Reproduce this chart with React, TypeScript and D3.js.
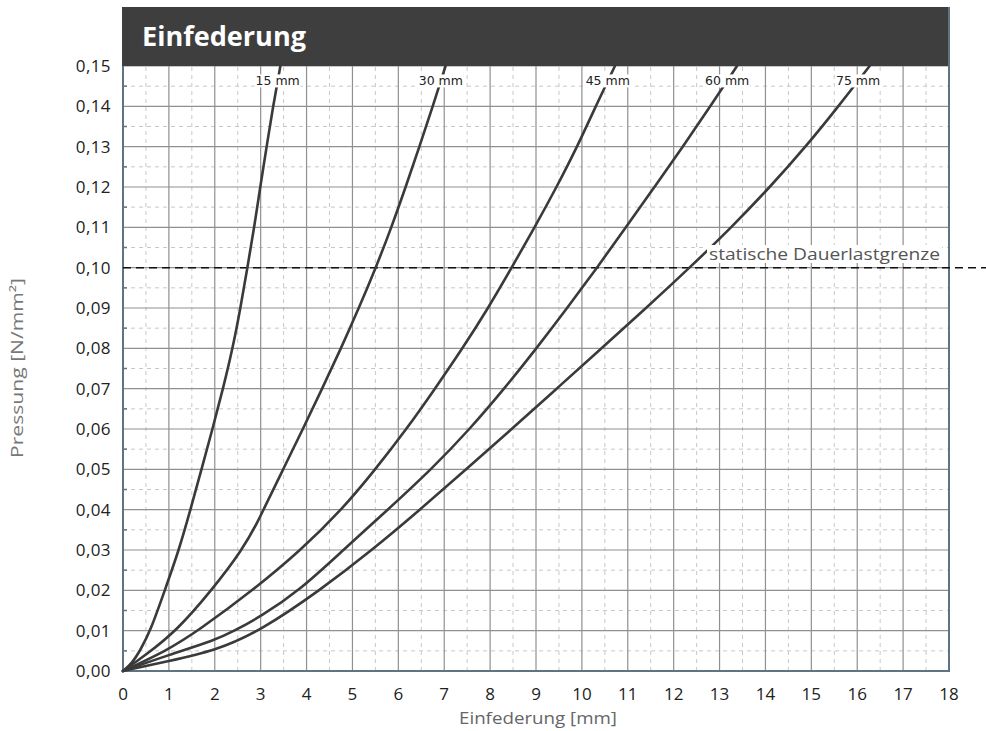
import React, { useEffect, useRef } from 'react';
import * as d3 from 'd3';

// Einfederung (mm) vs Pressung (N/mm²), one series per material thickness
const seriesNames = ["15 mm", "30 mm", "45 mm", "60 mm", "75 mm"];

const curve15: [number, number][] = [
  [0, 0], [0.2, 0.002], [0.37, 0.005], [0.6, 0.01], [0.91, 0.02], [1.22, 0.03],
  [1.47, 0.04], [1.71, 0.05], [1.95, 0.06], [2.18, 0.07], [2.39, 0.08], [2.56, 0.09],
  [2.71, 0.1], [2.86, 0.11], [2.99, 0.12], [3.13, 0.13], [3.27, 0.14], [3.43, 0.15]
];
const curve30: [number, number][] = [
  [0, 0], [0.5, 0.004], [1.17, 0.01], [1.93, 0.02], [2.6, 0.03], [2.96, 0.0375],
  [3.06, 0.04], [3.49, 0.05], [3.92, 0.06], [4.34, 0.07], [4.75, 0.08], [5.14, 0.09],
  [5.51, 0.1], [5.85, 0.11], [6.16, 0.12], [6.46, 0.13], [6.75, 0.14], [7.03, 0.15]
];
const curve45: [number, number][] = [
  [0, 0], [0.95, 0.005], [1.64, 0.01], [2.83, 0.02], [3.88, 0.03], [4.77, 0.04],
  [5.5, 0.05], [6.18, 0.06], [6.8, 0.07], [7.4, 0.08], [7.96, 0.09], [8.47, 0.1],
  [8.97, 0.11], [9.45, 0.12], [9.9, 0.13], [10.3, 0.14], [10.72, 0.15]
];
const curve60: [number, number][] = [
  [0, 0], [1.0, 0.004], [2.0, 0.0076], [2.4, 0.0098], [3.0, 0.0135], [3.85, 0.02],
  [4.8, 0.03], [5.77, 0.04], [6.72, 0.05], [7.56, 0.06], [8.31, 0.07], [9.01, 0.08],
  [9.68, 0.09], [10.33, 0.1], [10.96, 0.11], [11.58, 0.12], [12.2, 0.13], [12.8, 0.14],
  [13.38, 0.15]
];
const curve75: [number, number][] = [
  [0, 0], [1.0, 0.0025], [2.0, 0.005], [3.0, 0.01], [4.29, 0.02], [5.43, 0.03],
  [6.47, 0.04], [7.48, 0.05], [8.47, 0.06], [9.45, 0.07], [10.43, 0.08], [11.4, 0.09],
  [12.35, 0.1], [13.26, 0.11], [14.1, 0.12], [14.88, 0.13], [15.59, 0.14], [16.27, 0.15]
];
const curves = [curve15, curve30, curve45, curve60, curve75];

const xTicks = d3.range(0, 19);
const yTicks = d3.range(0, 16).map(i => i / 100);
const limitValue = 0.1;
const limitLabel = "statische Dauerlastgrenze";

const W = 986;
const H = 731;
const FONT = "'Open Sans', 'Noto Sans', sans-serif";

const App: React.FC = () => {
  const svgRef = useRef<SVGSVGElement>(null);

  useEffect(() => {
    document.body.style.margin = '0';
    if (!svgRef.current) return;
    const svg = d3.select(svgRef.current);
    svg.selectAll("*").remove();

    const x = d3.scaleLinear().domain([0, 18]).range([123, 949]);
    const y = d3.scaleLinear().domain([0, 0.15]).range([671, 66]);

    svg.append("rect").attr("width", W).attr("height", H).attr("fill", "#fff");

    // minor grid
    const minorX = d3.range(0.5, 18, 1);
    const minorY = d3.range(0.005, 0.15, 0.01);
    const grid = svg.append("g");
    grid.selectAll(".mx").data(minorX).enter().append("line")
      .attr("x1", d => x(d)).attr("x2", d => x(d))
      .attr("y1", y(0)).attr("y2", y(0.15))
      .attr("stroke", "#c8c8c8").attr("stroke-dasharray", "4,4");
    grid.selectAll(".my").data(minorY).enter().append("line")
      .attr("x1", x(0)).attr("x2", x(18))
      .attr("y1", d => y(d)).attr("y2", d => y(d))
      .attr("stroke", "#c8c8c8").attr("stroke-dasharray", "4,4");

    // major grid
    grid.selectAll(".Mx").data(xTicks.slice(1, -1)).enter().append("line")
      .attr("x1", d => x(d)).attr("x2", d => x(d))
      .attr("y1", y(0)).attr("y2", y(0.15))
      .attr("stroke", "#909090").attr("stroke-width", 1.2);
    grid.selectAll(".My").data(yTicks.slice(1)).enter().append("line")
      .attr("x1", x(0)).attr("x2", x(18))
      .attr("y1", d => y(d)).attr("y2", d => y(d))
      .attr("stroke", "#909090").attr("stroke-width", 1.2);

    // small ticks on the left axis
    grid.selectAll(".lt").data(minorY).enter().append("line")
      .attr("x1", x(0)).attr("x2", x(0) + 4)
      .attr("y1", d => y(d)).attr("y2", d => y(d))
      .attr("stroke", "#5f7480").attr("stroke-width", 1.5);

    // title bar
    svg.append("rect")
      .attr("x", 122).attr("y", 7).attr("width", 828).attr("height", 59)
      .attr("fill", "#3e3e3e");
    svg.append("text")
      .attr("x", 142).attr("y", 46)
      .attr("fill", "#fff").attr("font-family", FONT)
      .attr("font-weight", 700).attr("font-size", 26)
      .attr("textLength", 164).attr("lengthAdjust", "spacingAndGlyphs")
      .text("Einfederung");

    // frame
    svg.append("path")
      .attr("d", `M${x(0)},${y(0.15)} V${y(0)} H${x(18)} V7`)
      .attr("fill", "none").attr("stroke", "#5f7480").attr("stroke-width", 2);

    // limit line
    svg.append("line")
      .attr("x1", x(0)).attr("x2", W)
      .attr("y1", y(limitValue)).attr("y2", y(limitValue))
      .attr("stroke", "#111").attr("stroke-width", 1.5)
      .attr("stroke-dasharray", "8,5");

    // curves
    const line = d3.line<[number, number]>()
      .x(d => x(d[0])).y(d => y(d[1]))
      .curve(d3.curveBasis);
    svg.append("g").selectAll("path").data(curves).enter().append("path")
      .attr("d", d => line(d) || '')
      .attr("fill", "none")
      .attr("stroke", "#3a3a3a")
      .attr("stroke-width", 2.6)
      .attr("stroke-linecap", "round");

    // curve labels with white backing
    const labelP = 0.1463;
    curves.forEach((c, i) => {
      const k = c.findIndex(p => p[1] >= labelP);
      const a = c[k - 1], b = c[k];
      const lx = a[0] + (b[0] - a[0]) * (labelP - a[1]) / (b[1] - a[1]);
      const g = svg.append("g");
      const t = g.append("text")
        .attr("x", x(lx)).attr("y", y(labelP) + 4.5)
        .attr("text-anchor", "middle")
        .attr("font-family", "'DejaVu Sans', sans-serif")
        .attr("font-size", 12.5)
        .attr("fill", "#222")
        .text(seriesNames[i]);
      const bb = (t.node() as SVGTextElement).getBBox();
      g.insert("rect", "text")
        .attr("x", bb.x - 1).attr("y", bb.y + 1).attr("width", bb.width + 2).attr("height", bb.height - 2)
        .attr("fill", "#fff");
    });

    // limit label
    const lg = svg.append("g");
    const lt = lg.append("text")
      .attr("x", 709).attr("y", 260)
      .attr("font-family", FONT).attr("font-size", 16)
      .attr("fill", "#555")
      .attr("textLength", 231).attr("lengthAdjust", "spacingAndGlyphs")
      .text(limitLabel);
    const lbb = (lt.node() as SVGTextElement).getBBox();
    lg.insert("rect", "text")
      .attr("x", lbb.x - 2).attr("y", lbb.y + 2).attr("width", lbb.width + 4).attr("height", lbb.height - 4)
      .attr("fill", "#fff");

    // tick labels
    svg.append("g").selectAll("text").data(yTicks).enter().append("text")
      .attr("x", 111).attr("y", d => y(d) + 6)
      .attr("text-anchor", "end")
      .attr("font-family", FONT).attr("font-size", 17).attr("fill", "#222")
      .attr("letter-spacing", 0.4)
      .text(d => d3.format(".2f")(d).replace(".", ","));
    svg.append("g").selectAll("text").data(xTicks).enter().append("text")
      .attr("x", d => x(d)).attr("y", 700)
      .attr("text-anchor", "middle")
      .attr("font-family", FONT).attr("font-size", 17).attr("fill", "#222")
      .text(d => String(d));

    // axis titles
    svg.append("text")
      .attr("x", 538).attr("y", 724)
      .attr("text-anchor", "middle")
      .attr("font-family", FONT).attr("font-size", 16).attr("fill", "#666")
      .attr("textLength", 158).attr("lengthAdjust", "spacingAndGlyphs")
      .text("Einfederung [mm]");
    svg.append("text")
      .attr("transform", `translate(23, 368) rotate(-90)`)
      .attr("text-anchor", "middle")
      .attr("font-family", FONT).attr("font-size", 16).attr("fill", "#777")
      .attr("textLength", 180).attr("lengthAdjust", "spacingAndGlyphs")
      .text("Pressung [N/mm²]");
  }, []);

  return <svg ref={svgRef} width={W} height={H} style={{ display: 'block' }}></svg>;
};

export default App;
